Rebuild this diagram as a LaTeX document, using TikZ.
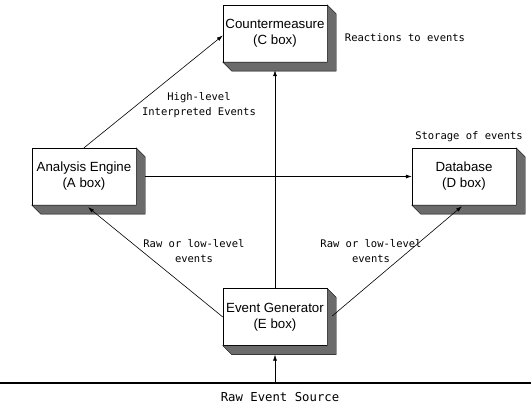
\documentclass[tikz,border=0pt]{standalone}
\usepackage{fontspec}
\setmainfont{Liberation Sans}
\newfontfamily\notefont{DejaVu Sans Mono}
\usetikzlibrary{arrows.meta, calc}

\begin{document}
\begin{tikzpicture}[
    x=1pt, y=-1pt,
    box/.style={draw, thin, rectangle, fill=white, minimum width=104pt, minimum height=57pt, inner sep=1pt, align=center, font=\fontsize{13.3}{16}\selectfont},
    side/.style={draw=black, thin, fill=black!58},
    note/.style={inner sep=0pt, align=center, font=\notefont\fontsize{10.5}{15}\selectfont},
    arrow/.style={-{Latex[length=6pt, width=4pt]}, line width=0.6pt},
    ground/.style={line width=1.3pt}
]
\useasboundingbox (0,0) rectangle (531,406);

% Boxes
\node[box] (C) at (275,33.5) {Countermeasure\\(C box)};
\node[box] (A) at (84,176.5) {Analysis Engine\\(A box)};
\node[box] (D) at (464,176.5) {Database\\(D box)};
\node[box] (E) at (275,317) {Event Generator\\(E box)};

% 3D sides
\foreach \n in {C,A,D,E}
    \filldraw[side] (\n.north east) -- ++(9,9) -- ($(\n.south east)+(9,9)$)
        -- ($(\n.south west)+(9,9)$) -- (\n.south west) -- (\n.south east) -- cycle;

% Event source
\coordinate (src) at (275,383);
\draw[ground] (0,383) -- (531,383);
\node[note, font=\notefont\fontsize{12.3}{15}\selectfont] (srclabel) at (280,397) {Raw Event Source};

% Labels
\node[note] (react) at (405,38) {Reactions to events};
\node[note] (store) at (469,137) {Storage of events};
\node[note] (high) at (199,105.5) {High-level\\Interpreted Events};
\node[note] (rawA) at (194,251) {Raw or low-level\\events};
\node[note] (rawD) at (371,251) {Raw or low-level\\events};

% Edges
\draw[arrow] (src) -- ($(E.south)+(0,9)$);
\draw[arrow] (E.north) -- ($(C.south)+(0,8)$);
\draw[arrow] (A.north) -- ($(C.west)+(0,2)$);
\draw[arrow] ($(A.east)+(9,0)$) -- (D.west);
\draw[arrow] (E.west) -- ($(A.south)+(4,2)$);
\draw[arrow] ($(E.east)+(5,-1)$) -- ($(D.south)+(-2,1)$);

\end{tikzpicture}
\end{document}
